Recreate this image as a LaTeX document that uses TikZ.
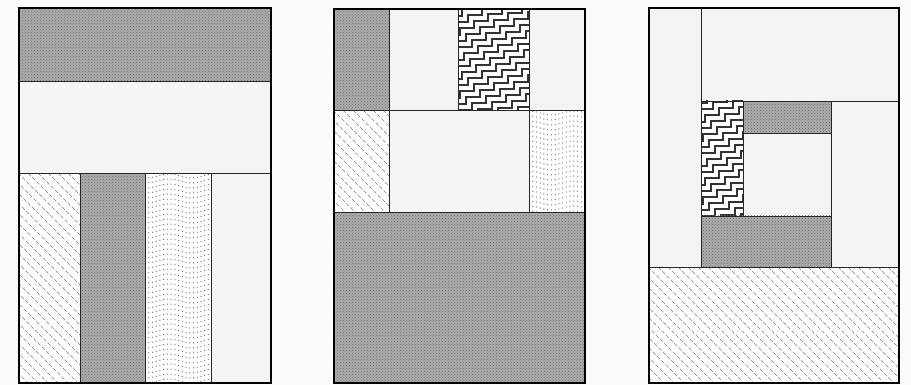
\documentclass[tikz,border=0pt]{standalone}
\usepackage{tikz}
\usetikzlibrary{patterns}
\definecolor{papergray}{HTML}{FBFBFB}
\definecolor{blankgray}{HTML}{F4F4F4}
\definecolor{cellgray}{HTML}{ABABAB}
\definecolor{inkgray}{HTML}{707070}

% staircase cell
\newcommand{\zigcell}[4]{%
  \begin{scope}
    \clip (#1,#2) rectangle (#3,#4);
    \fill[white] (#1,#2) rectangle (#3,#4);
    \foreach \k in {-17,...,8} {
      \draw[line width=1.2pt, black!80] (#1+6*\k,#4+6*\k)
        \foreach \i in {1,...,20} { -- ++(14,0) -- ++(0,-7) };
    }
  \end{scope}
  \draw[seam] (#1,#2) rectangle (#3,#4);}

% dashed hatch cell
\newcommand{\hatchcell}[4]{%
  \begin{scope}
    \clip (#1,#2) rectangle (#3,#4);
    \fill[white] (#1,#2) rectangle (#3,#4);
    \foreach \k in {-23,...,26} {
      \draw[hatchline] (#1+10*\k-1,#2) -- ++(270,270);
    }
  \end{scope}
  \draw[seam] (#1,#2) rectangle (#3,#4);}

% wavy dotted cell
\newcommand{\dotcell}[4]{%
  \begin{scope}
    \clip (#1,#2) rectangle (#3,#4);
    \fill[white] (#1,#2) rectangle (#3,#4);
    \foreach \r in {0,...,43} {
      \draw[dotrow] plot[smooth, domain=#1:#3, samples=22]
        (\x, {#2+3+5*\r+2*sin(8*\x)});
    }
  \end{scope}
  \draw[seam] (#1,#2) rectangle (#3,#4);}

\begin{document}
\begin{tikzpicture}[x=1pt, y=-1pt,
    seam/.style={draw=black!85, line width=0.9pt},
    frame/.style={draw=black, line width=1.6pt},
    blankcell/.style={seam, fill=blankgray},
    graycell/.style={seam, pattern=crosshatch dots, pattern color=inkgray, preaction={fill=cellgray}},
    hatchline/.style={black!50, line width=0.6pt, dash pattern=on 4pt off 2pt},
    dotrow/.style={black!55, line width=1.3pt, line cap=round, dash pattern=on 0pt off 3.8pt}
  ]
    \fill[papergray] (0,0) rectangle (911,385);
    \useasboundingbox (0,0) rectangle (911,385);

    % Panel 1
    \path[graycell] (19,8) rectangle (271,81);
    \path[blankcell] (19,81) rectangle (271,173);
    \hatchcell{19}{173}{80}{383}
    \path[graycell] (80,173) rectangle (145,383);
    \dotcell{145}{173}{211}{383}
    \path[blankcell] (211,173) rectangle (271,383);
    \draw[frame] (19,8) rectangle (271,383);

    % Panel 2
    \path[graycell] (334,9) rectangle (389,110);
    \path[blankcell] (389,9) rectangle (458,110);
    \zigcell{458}{9}{529}{110}
    \path[blankcell] (529,9) rectangle (585,110);
    \hatchcell{334}{110}{389}{212}
    \path[blankcell] (389,110) rectangle (529,212);
    \dotcell{529}{110}{585}{212}
    \path[graycell] (334,212) rectangle (585,383);
    \draw[frame] (334,9) rectangle (585,383);

    % Panel 3
    \path[blankcell] (649,8) rectangle (701,267);
    \path[blankcell] (701,8) rectangle (899,101);
    \zigcell{701}{101}{743}{216}
    \path[graycell] (743,101) rectangle (831,133);
    \path[blankcell] (743,133) rectangle (831,216);
    \path[graycell] (701,216) rectangle (831,267);
    \path[blankcell] (831,101) rectangle (899,267);
    \hatchcell{649}{267}{899}{383}
    \draw[frame] (649,8) rectangle (899,383);
  \end{tikzpicture}
\end{document}
